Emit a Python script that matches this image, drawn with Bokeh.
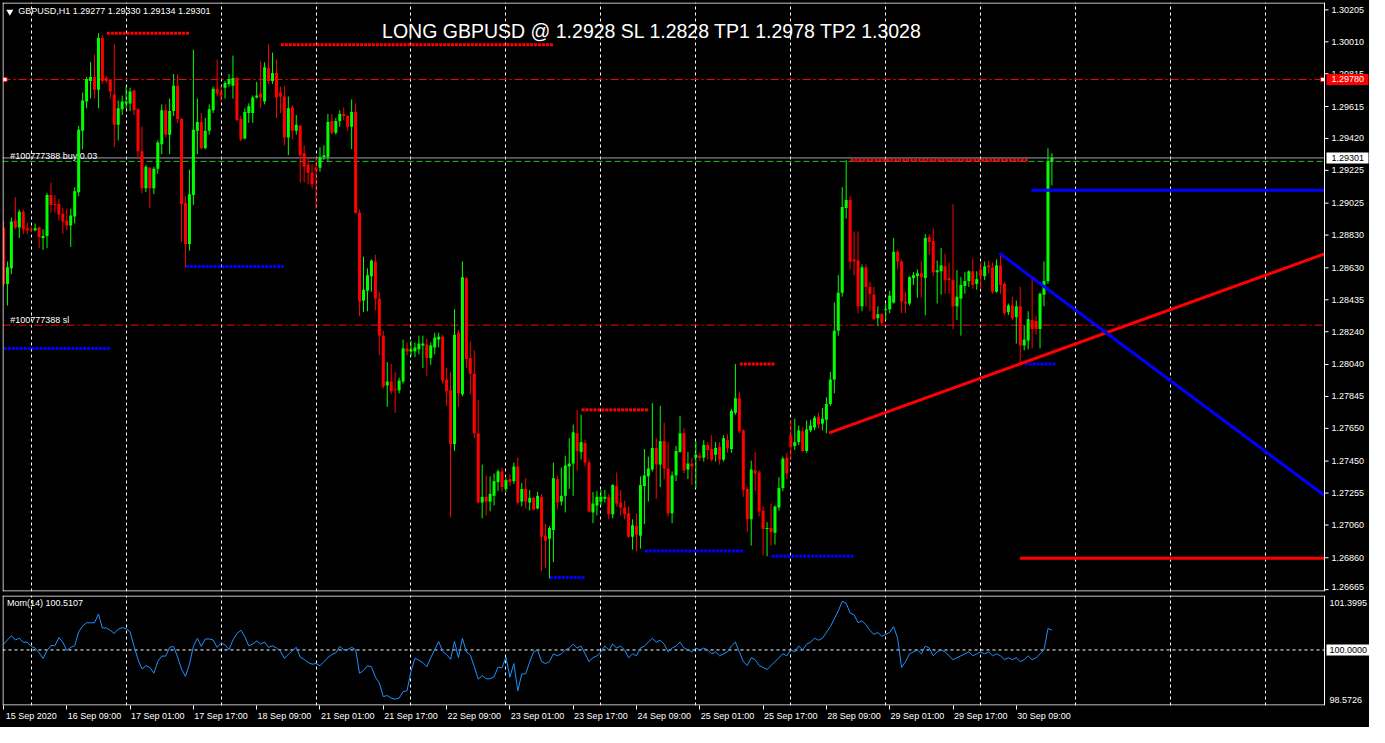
from bokeh.plotting import figure
from bokeh.models import (Range1d, FixedTicker, LinearAxis, Label, ColumnDataSource,
                          Grid, CustomJSTickFormatter)
from bokeh.layouts import column
from bokeh.embed import file_html
from bokeh.resources import INLINE
from bokeh.core.properties import value

# ---------------- data (GBPUSD H1, one value per bar) ----------------
opens = [1.28877,1.28532,1.28627,1.28919,1.28877,1.28973,1.28871,1.28865,1.28859,1.28877,
1.28812,1.28824,1.29074,1.29020,1.29020,1.28961,1.28919,1.28889,1.28943,1.29092,
1.29467,1.29646,1.29771,1.29795,1.29718,1.30034,1.29789,1.29777,1.29688,1.29503,
1.29598,1.29634,1.29634,1.29712,1.29598,1.29342,1.29116,1.29241,1.29116,1.29235,
1.29384,1.29592,1.29443,1.29587,1.29741,1.29539,1.29026,1.28776,1.29074,1.29467,
1.29521,1.29360,1.29467,1.29592,1.29724,1.29700,1.29730,1.29753,1.29741,1.29789,
1.29539,1.29420,1.29575,1.29575,1.29670,1.29694,1.29646,1.29849,1.29771,1.29819,
1.29700,1.29676,1.29426,1.29610,1.29467,1.29497,1.29330,1.29259,1.29211,1.29241,
1.29241,1.29306,1.29306,1.29527,1.29455,1.29527,1.29569,1.29557,1.29491,1.29581,
1.28967,1.28430,1.28490,1.28579,1.28669,1.28442,1.28216,1.27912,1.27936,1.27888,
1.27882,1.27936,1.28138,1.28120,1.28120,1.28132,1.28156,1.28162,1.28079,1.28144,
1.28192,1.28210,1.27948,1.27882,1.27554,1.28234,1.27858,1.28567,1.28079,1.27983,
1.27620,1.27197,1.27232,1.27203,1.27238,1.27322,1.27387,1.27280,1.27340,1.27328,
1.27417,1.27203,1.27280,1.27197,1.27226,1.27161,1.27232,1.26994,1.26976,1.27030,
1.27340,1.27203,1.27238,1.27417,1.27435,1.27620,1.27506,1.27560,1.27441,1.27137,
1.27179,1.27203,1.27220,1.27232,1.27125,1.27298,1.27197,1.27167,1.27131,1.26988,
1.27054,1.26994,1.27298,1.27357,1.27399,1.27530,1.27429,1.27572,1.27405,1.27131,
1.27363,1.27506,1.27620,1.27399,1.27435,1.27471,1.27483,1.27471,1.27548,1.27524,
1.27489,1.27536,1.27459,1.27578,1.27524,1.27745,1.27834,1.27638,1.27280,1.27095,
1.27393,1.27381,1.27149,1.27036,1.27042,1.27012,1.27167,1.27286,1.27471,1.27608,
1.27542,1.27566,1.27632,1.27512,1.27638,1.27655,1.27721,1.27679,1.27703,1.27799,
1.27948,1.28246,1.28478,1.28996,1.29044,1.28681,1.28675,1.28395,1.28633,1.28514,
1.28466,1.28323,1.28347,1.28371,1.28377,1.28418,1.28728,1.28669,1.28424,1.28412,
1.28567,1.28579,1.28597,1.28567,1.28818,1.28794,1.28603,1.28609,1.28639,1.28567,
1.28555,1.28395,1.28442,1.28520,1.28549,1.28609,1.28532,1.28621,1.28579,1.28645,
1.28633,1.28484,1.28645,1.28532,1.28359,1.28400,1.28329,1.28395,1.28156,1.28186,
1.28311,1.28305,1.28257,1.28466,1.28549,1.29277]

highs = [1.28913,1.28669,1.28937,1.29062,1.28985,1.28985,1.28907,1.28883,1.28901,1.28883,
1.28865,1.29086,1.29151,1.29074,1.29050,1.28996,1.28991,1.28991,1.29122,1.29497,
1.29700,1.29795,1.29885,1.29932,1.30063,1.30051,1.29801,1.29783,1.29998,1.29652,
1.29682,1.29736,1.29730,1.29718,1.29604,1.29491,1.29259,1.29247,1.29247,1.29408,
1.29628,1.29628,1.29664,1.29813,1.29813,1.29545,1.29068,1.29229,1.29962,1.29664,
1.29575,1.29545,1.29628,1.29736,1.29902,1.29741,1.29771,1.29813,1.29926,1.29795,
1.29557,1.29604,1.29634,1.29682,1.29765,1.29890,1.29885,1.29998,1.29944,1.29902,
1.29736,1.29741,1.29676,1.29622,1.29563,1.29503,1.29378,1.29306,1.29265,1.29306,
1.29366,1.29378,1.29569,1.29569,1.29545,1.29592,1.29610,1.29563,1.29658,1.29634,
1.28985,1.28698,1.28627,1.28681,1.28710,1.28484,1.28246,1.28055,1.28043,1.27995,
1.27959,1.28192,1.28174,1.28186,1.28174,1.28216,1.28216,1.28198,1.28174,1.28234,
1.28234,1.28222,1.28019,1.27995,1.28377,1.28251,1.28669,1.28573,1.28180,1.28126,
1.27822,1.27429,1.27363,1.27357,1.27375,1.27399,1.27411,1.27346,1.27369,1.27441,
1.27471,1.27316,1.27346,1.27274,1.27232,1.27262,1.27250,1.27065,1.27054,1.27441,
1.27363,1.27411,1.27483,1.27590,1.27673,1.27763,1.27733,1.27578,1.27459,1.27262,
1.27268,1.27274,1.27274,1.27250,1.27310,1.27381,1.27274,1.27208,1.27173,1.27095,
1.27131,1.27357,1.27524,1.27477,1.27804,1.27590,1.27787,1.27685,1.27566,1.27387,
1.27542,1.27727,1.27650,1.27506,1.27471,1.27572,1.27501,1.27578,1.27566,1.27608,
1.27566,1.27566,1.27608,1.27614,1.27769,1.28043,1.27870,1.27644,1.27292,1.27453,
1.27506,1.27393,1.27173,1.27077,1.27191,1.27179,1.27352,1.27477,1.27501,1.27697,
1.27709,1.27667,1.27655,1.27697,1.27703,1.27727,1.27745,1.27775,1.27840,1.27995,
1.28418,1.28585,1.29122,1.29289,1.29068,1.28853,1.28853,1.28651,1.28651,1.28544,
1.28514,1.28395,1.28353,1.28412,1.28490,1.28812,1.28740,1.28681,1.28484,1.28579,
1.28603,1.28621,1.28669,1.28836,1.28836,1.28871,1.28675,1.28752,1.28716,1.28663,
1.29020,1.28615,1.28573,1.28603,1.28615,1.28687,1.28609,1.28669,1.28669,1.28675,
1.28663,1.28681,1.28722,1.28544,1.28412,1.28454,1.28430,1.28514,1.28281,1.28365,
1.28573,1.28335,1.28478,1.28669,1.29360,1.29330]

lows = [1.28520,1.28400,1.28591,1.28865,1.28812,1.28836,1.28836,1.28847,1.28853,1.28752,
1.28740,1.28752,1.28967,1.28967,1.28919,1.28836,1.28859,1.28758,1.28901,1.29068,
1.29354,1.29604,1.29664,1.29664,1.29604,1.29753,1.29759,1.29664,1.29366,1.29408,
1.29563,1.29604,1.29587,1.29563,1.29294,1.29086,1.29092,1.28996,1.29080,1.29205,
1.29324,1.29426,1.29324,1.29557,1.29515,1.28788,1.28633,1.28734,1.29014,1.29324,
1.29354,1.29354,1.29443,1.29575,1.29676,1.29646,1.29664,1.29736,1.29664,1.29527,
1.29402,1.29414,1.29515,1.29515,1.29664,1.29604,1.29628,1.29753,1.29753,1.29545,
1.29575,1.29378,1.29318,1.29414,1.29443,1.29151,1.29151,1.29140,1.29116,1.28991,
1.29217,1.29289,1.29277,1.29443,1.29443,1.29491,1.29533,1.29467,1.29354,1.28961,
1.28335,1.28359,1.28365,1.28484,1.28371,1.28097,1.27894,1.27781,1.27858,1.27745,
1.27864,1.27924,1.28097,1.28091,1.28085,1.28102,1.28019,1.27971,1.28037,1.28102,
1.28144,1.27924,1.27787,1.27107,1.27512,1.27781,1.27846,1.28019,1.27858,1.27590,
1.27191,1.27101,1.27119,1.27143,1.27179,1.27268,1.27262,1.27262,1.27298,1.27310,
1.27185,1.27173,1.27161,1.27149,1.27149,1.27155,1.26779,1.26797,1.26732,1.26833,
1.27155,1.27179,1.27137,1.27280,1.27238,1.27393,1.27459,1.27417,1.27137,1.27071,
1.27119,1.27179,1.27197,1.27095,1.27101,1.27173,1.27119,1.27095,1.26982,1.26910,
1.26899,1.26916,1.27065,1.27203,1.27387,1.27220,1.27292,1.27340,1.27113,1.27071,
1.27328,1.27501,1.27375,1.27340,1.27304,1.27286,1.27453,1.27447,1.27459,1.27447,
1.27447,1.27429,1.27447,1.27501,1.27501,1.27733,1.27620,1.27232,1.27018,1.26934,
1.27268,1.27113,1.26875,1.26869,1.26934,1.26940,1.27149,1.27268,1.27340,1.27459,
1.27518,1.27548,1.27506,1.27501,1.27626,1.27638,1.27650,1.27638,1.27620,1.27787,
1.27864,1.28216,1.28454,1.28931,1.28621,1.28585,1.28353,1.28365,1.28395,1.28365,
1.28311,1.28275,1.28275,1.28311,1.28353,1.28412,1.28621,1.28353,1.28353,1.28400,
1.28526,1.28448,1.28448,1.28341,1.28710,1.28579,1.28412,1.28466,1.28472,1.28472,
1.28257,1.28311,1.28216,1.28472,1.28514,1.28502,1.28496,1.28502,1.28555,1.28597,
1.28472,1.28478,1.28472,1.28341,1.28341,1.28311,1.28168,1.28043,1.28126,1.28132,
1.28138,1.28222,1.28138,1.28395,1.28532,1.29134]

closes = [1.28532,1.28633,1.28913,1.28877,1.28973,1.28865,1.28859,1.28859,1.28871,1.28818,
1.28824,1.29074,1.29014,1.29014,1.28955,1.28913,1.28889,1.28949,1.29098,1.29473,
1.29652,1.29783,1.29795,1.29718,1.30034,1.29771,1.29771,1.29706,1.29503,1.29604,
1.29646,1.29646,1.29706,1.29592,1.29342,1.29116,1.29247,1.29116,1.29235,1.29396,
1.29592,1.29443,1.29587,1.29741,1.29539,1.29020,1.28776,1.29080,1.29473,1.29521,
1.29360,1.29467,1.29598,1.29724,1.29694,1.29682,1.29759,1.29783,1.29789,1.29533,
1.29414,1.29581,1.29616,1.29670,1.29682,1.29670,1.29855,1.29771,1.29819,1.29670,
1.29676,1.29426,1.29604,1.29467,1.29503,1.29318,1.29247,1.29211,1.29140,1.29223,
1.29306,1.29318,1.29521,1.29455,1.29527,1.29569,1.29557,1.29491,1.29581,1.28967,
1.28424,1.28496,1.28585,1.28675,1.28442,1.28216,1.27906,1.27936,1.27876,1.27882,
1.27942,1.28138,1.28120,1.28132,1.28144,1.28168,1.28168,1.28079,1.28156,1.28204,
1.28210,1.27942,1.27876,1.27554,1.28222,1.27864,1.28573,1.28073,1.27983,1.27620,
1.27197,1.27232,1.27203,1.27250,1.27328,1.27387,1.27292,1.27334,1.27322,1.27417,
1.27197,1.27280,1.27203,1.27226,1.27155,1.27238,1.26988,1.26964,1.27042,1.27346,
1.27197,1.27238,1.27423,1.27435,1.27626,1.27512,1.27566,1.27441,1.27143,1.27191,
1.27232,1.27232,1.27232,1.27125,1.27304,1.27191,1.27167,1.27125,1.26988,1.27059,
1.27000,1.27304,1.27363,1.27405,1.27530,1.27429,1.27572,1.27405,1.27131,1.27363,
1.27512,1.27620,1.27393,1.27435,1.27417,1.27489,1.27471,1.27548,1.27518,1.27459,
1.27530,1.27459,1.27590,1.27530,1.27757,1.27834,1.27632,1.27274,1.27095,1.27399,
1.27375,1.27143,1.27036,1.27042,1.27018,1.27173,1.27286,1.27465,1.27375,1.27536,
1.27566,1.27638,1.27512,1.27644,1.27667,1.27715,1.27673,1.27709,1.27799,1.27948,
1.28246,1.28478,1.29002,1.29044,1.28669,1.28669,1.28395,1.28633,1.28514,1.28472,
1.28317,1.28347,1.28293,1.28377,1.28460,1.28728,1.28669,1.28424,1.28412,1.28573,
1.28585,1.28597,1.28573,1.28812,1.28788,1.28603,1.28615,1.28645,1.28555,1.28555,
1.28395,1.28454,1.28526,1.28549,1.28609,1.28526,1.28561,1.28579,1.28639,1.28633,
1.28484,1.28645,1.28526,1.28353,1.28400,1.28323,1.28395,1.28156,1.28192,1.28317,
1.28257,1.28257,1.28472,1.28549,1.29277,1.29301]

momentum = [100.150,100.258,100.366,100.258,100.299,100.200,100.200,100.091,100.050,99.925,
99.784,99.983,100.116,100.108,100.316,100.200,99.983,100.067,100.108,100.466,
100.615,100.698,100.698,100.698,100.923,100.565,100.565,100.507,100.424,100.532,
100.574,100.549,100.466,100.091,99.759,99.510,99.593,99.551,99.401,99.701,
99.842,99.842,100.067,100.091,99.817,99.510,99.318,99.634,100.091,100.299,
100.091,100.283,100.283,100.258,100.067,100.175,100.133,100.008,100.258,100.424,
100.507,100.341,100.108,100.150,100.233,100.150,100.200,100.067,100.108,100.050,
99.967,99.784,99.884,99.983,100.067,99.817,99.759,99.676,99.634,99.651,
99.593,99.701,99.800,99.884,99.925,100.091,100.008,100.008,100.067,100.008,
99.401,99.468,99.593,99.568,99.302,99.152,98.803,98.828,98.761,98.736,
98.761,98.928,98.953,99.451,99.784,99.734,99.676,99.568,99.800,100.008,
100.216,99.967,99.884,99.759,100.216,99.800,100.300,99.950,99.870,99.570,
99.250,99.340,99.260,99.260,99.310,99.560,99.540,99.820,99.300,99.650,
98.950,99.380,99.390,99.690,99.950,100.000,99.700,99.650,99.700,99.900,
99.850,99.900,100.000,100.050,100.150,100.050,100.100,99.900,99.700,99.800,
99.850,99.950,100.100,100.000,100.150,100.050,100.100,100.000,99.800,99.900,
99.850,100.050,100.100,100.200,100.300,100.200,100.250,100.150,99.950,100.050,
100.100,100.200,100.050,100.000,99.950,100.050,100.000,100.050,100.000,99.900,
99.950,99.850,99.900,99.950,100.100,100.200,99.950,99.700,99.600,99.800,
99.750,99.600,99.550,99.500,99.600,99.700,99.800,99.900,99.850,100.000,
99.950,100.100,100.000,100.150,100.200,100.300,100.250,100.300,100.450,100.600,
100.800,101.000,101.250,101.200,100.950,100.900,100.700,100.750,100.650,100.500,
100.400,100.450,100.350,100.400,100.450,100.600,100.300,99.550,99.700,99.900,
99.950,100.000,99.900,100.100,100.050,99.850,99.950,100.000,99.950,99.850,
99.750,99.800,99.850,99.900,99.950,99.850,99.900,99.950,99.900,99.950,
99.850,99.900,99.850,99.750,99.800,99.750,99.800,99.700,99.750,99.850,
99.750,99.800,99.900,100.000,100.550,100.5107]

time_labels = ["15 Sep 2020", "16 Sep 09:00", "17 Sep 01:00", "17 Sep 17:00", "18 Sep 09:00",
               "21 Sep 01:00", "21 Sep 17:00", "22 Sep 09:00", "23 Sep 01:00", "23 Sep 17:00",
               "24 Sep 09:00", "25 Sep 01:00", "25 Sep 17:00", "28 Sep 09:00", "29 Sep 01:00",
               "29 Sep 17:00", "30 Sep 09:00"]
price_ticks = [1.30205, 1.30010, 1.29815, 1.29615, 1.29420, 1.29225, 1.29025, 1.28830, 1.28630,
               1.28435, 1.28240, 1.28040, 1.27845, 1.27650, 1.27450, 1.27255, 1.27060, 1.26860, 1.26665]
price_tick_labels = ["1.30205", "1.30010", "1.29815", "1.29615", "1.29420", "1.29225", "1.29025",
                     "1.28830", "1.28630", "1.28435", "1.28240", "1.28040", "1.27845", "1.27650",
                     "1.27450", "1.27255", "1.27060", "1.26860", "1.26665"]

# trade levels
entry_price = 1.2928
sl_price = 1.2828
tp_price = 1.2978

# support / resistance dotted levels: start bar, end bar, price
res_start = [26.5, 70.5, 214.5, 186.5, 146.5]
res_end = [46.5, 138.5, 258.5, 194.5, 162.5]
res_price = [1.30062, 1.29992, 1.29287, 1.28043, 1.27763]
sup_start = [46.5, 0.5, 138.5, 162.5, 194.5, 258.5]
sup_end = [70.5, 26.5, 146.5, 186.5, 214.5, 265.5]
sup_price = [1.28638, 1.28138, 1.26740, 1.26901, 1.26869, 1.28043]

# drawn trend lines (bar, price) -> (bar, price)
trend_x0 = [208.7, 251.7, 259.8, 256.9]
trend_y0 = [1.27622, 1.28720, 1.29104, 1.26857]
trend_x1 = [333.9, 333.9, 333.9, 333.9]
trend_y1 = [1.28715, 1.27240, 1.29104, 1.26857]
trend_color = ["#FF0000", "#0000FF", "#0000FF", "#FF0000"]

# ---------------- layout constants ----------------
FONT = "Liberation Sans"
W = 1369
LEFT = 2
CHART_PX = 1322              # width of the candle area in px
FRAME_PX = W - LEFT          # frame includes the price-scale strip
MAIN_H, MOM_H = 593, 134
MAIN_FRAME_PX = MAIN_H - 4
MOM_FRAME_PX = MOM_H - 2 - 22
X0, X1 = -0.25, 333.9
BPX = (X1 - X0) / CHART_PX   # bars per px
XR = X0 + FRAME_PX * BPX
YB, YT = 1.26654, 1.30250
PPY = (YT - YB) / MAIN_FRAME_PX
MOM_LO, MOM_HI = 98.5726, 101.3995
MPY = (MOM_HI - MOM_LO) / MOM_FRAME_PX
GRID_BARS = [7 + 24 * k for k in range(14)]
LABEL_BARS = [16 * k for k in range(len(time_labels))]

n = len(closes)
idx = list(range(n))
colors = ["#00FF00" if c >= o else "#FF0000" for o, c in zip(opens, closes)]
src = ColumnDataSource(dict(x=idx, o=opens, h=highs, l=lows, c=closes, color=colors,
                            top=[max(o, c) for o, c in zip(opens, closes)],
                            bot=[min(o, c) for o, c in zip(opens, closes)]))

x_range = Range1d(X0, XR)


def vgrid():
    return Grid(dimension=0, ticker=FixedTicker(ticks=GRID_BARS), grid_line_color="white",
                grid_line_dash="3 3", grid_line_width=1)


def border(fig, yb, yt, hy):
    hx = 0.5 * BPX
    fig.segment(x0=[X0 + hx, X0, X0, X1], y0=[yb, yt - hy, yb + hy, yb],
                x1=[X0 + hx, X1, X1, X1], y1=[yt, yt - hy, yb + hy, yt],
                line_color="white", line_width=1)


def hline(fig, y, color, dash, width=1):
    fig.segment(x0=[X0], y0=[y], x1=[X1], y1=[y], line_color=color, line_dash=dash,
                line_width=width)


def base_fig(height, yr, bottom):
    f = figure(width=W, height=height, x_range=x_range, y_range=yr, output_backend="svg",
               toolbar_location=None, x_axis_location=None, y_axis_location=None,
               min_border_left=LEFT, min_border_right=0, min_border_top=2,
               min_border_bottom=bottom, background_fill_color="black",
               border_fill_color="black", outline_line_color=None)
    for g in f.grid:
        g.visible = False
    f.add_layout(vgrid())
    return f


# ---------------- main price panel ----------------
p = base_fig(MAIN_H, Range1d(YB, YT), 2)

# order lines
hline(p, tp_price, "#FF0000", "8 3 2 3")
hline(p, sl_price, "#FF0000", "8 3 2 3")
hline(p, entry_price, "#2DB82D", "6 3")
hline(p, closes[-1], "#9AA4AE", "solid")

# candles
p.segment(x0="x", y0="l", x1="x", y1="h", source=src, line_color="color", line_width=1)
p.vbar(x="x", width=0.76, top="top", bottom="bot", source=src, fill_color="color",
       line_color=None)

# dotted support / resistance levels
for s, e, pr in zip(res_start, res_end, res_price):
    xs = [s + k for k in range(int(e - s) + 1)]
    p.scatter(xs, [pr] * len(xs), marker="square", size=3, fill_color="#FF0000",
              line_color=None)
for s, e, pr in zip(sup_start, sup_end, sup_price):
    xs = [s + k for k in range(int(e - s) + 1)]
    p.scatter(xs, [pr] * len(xs), marker="square", size=3, fill_color="#0000FF",
              line_color=None)

# trend lines
p.segment(x0=trend_x0, y0=trend_y0, x1=trend_x1, y1=trend_y1, line_color=trend_color,
          line_width=3)

# tp line anchors
p.scatter([0.4, X1 - 0.5], [tp_price, tp_price], marker="square", size=4,
          fill_color="white", line_color="#FF0000", line_width=1)

border(p, YB, YT, 0.5 * PPY)

# price scale (right strip)
p.segment(x0=[X1] * len(price_ticks), y0=price_ticks, x1=[X1 + 4 * BPX] * len(price_ticks),
          y1=price_ticks, line_color="white", line_width=1)
lab_y = price_ticks[:-1] + [price_ticks[-1] + 3 * PPY]
p.text(x=[X1 + 7 * BPX] * len(price_ticks), y=lab_y, text=price_tick_labels,
       text_color="white", text_font=value(FONT), text_font_size="9px",
       text_baseline="middle", text_align="left")
box_prices = [tp_price, closes[-1]]
p.quad(left=[X1 + 2 * BPX] * 2, right=[X1 + 44 * BPX] * 2,
       top=[v + 5.5 * PPY for v in box_prices], bottom=[v - 5.5 * PPY for v in box_prices],
       fill_color=["#FF0000", "white"], line_color=None)
p.text(x=[X1 + 7 * BPX] * 2, y=box_prices, text=["%.5f" % v for v in box_prices],
       text_color=["white", "black"], text_font=value(FONT), text_font_size="9px",
       text_baseline="middle", text_align="left")

# texts
p.scatter([1.6], [1.30194], marker="inverted_triangle", size=7, fill_color="white",
          line_color=None)
p.add_layout(Label(x=3.75, y=1.30196, text="GBPUSD,H1  %.5f %.5f %.5f %.5f" % (
    opens[-1], highs[-1], lows[-1], closes[-1]), text_color="white", text_font=FONT,
    text_font_size="9px", text_baseline="middle", text_align="left"))
p.add_layout(Label(x=95.7, y=1.30075, text="LONG GBPUSD @ 1.2928 SL 1.2828 TP1 1.2978 TP2 1.3028",
                   text_color="white", text_font=FONT, text_font_size="19.5px",
                   text_baseline="alphabetic", text_align="left"))
p.add_layout(Label(x=1.7, y=entry_price, text="#100777388 buy 0.03", text_color="white",
                   text_font=FONT, text_font_size="9px", text_baseline="bottom"))
p.add_layout(Label(x=1.7, y=sl_price, text="#100777388 sl", text_color="white",
                   text_font=FONT, text_font_size="9px", text_baseline="bottom"))

# ---------------- momentum panel ----------------
q = base_fig(MOM_H, Range1d(MOM_LO, MOM_HI), 22)
hline(q, 100.0, "white", "3 3")
q.line(idx, momentum, line_color="#1E90FF", line_width=1)
border(q, MOM_LO, MOM_HI, 0.5 * MPY)

label_axis = LinearAxis(ticker=FixedTicker(ticks=[b + 7 for b in LABEL_BARS],
                                           minor_ticks=LABEL_BARS),
                        axis_line_color=None, major_tick_line_color=None, major_tick_out=4,
                        major_tick_in=0, minor_tick_line_color="white", minor_tick_out=4,
                        minor_tick_in=0, major_label_text_color="white",
                        major_label_text_font=FONT, major_label_text_font_size="9px",
                        major_label_standoff=1,
                        formatter=CustomJSTickFormatter(args=dict(labels=time_labels),
                            code="const i = Math.round((tick - 7) / 16); return labels[i] || '';"))
q.add_layout(label_axis, "below")

q.add_layout(Label(x=0.9, y=101.2, text="Mom(14) %.4f" % momentum[-1], text_color="white",
                   text_font=FONT, text_font_size="9px", text_baseline="middle"))
q.quad(left=[X1 + 2 * BPX], right=[XR], top=[100.0 + 5.5 * MPY], bottom=[100.0 - 5.5 * MPY],
       fill_color="white", line_color=None)
q.text(x=[X1 + 5 * BPX] * 3, y=[MOM_HI - 7 * MPY, 100.0, MOM_LO + 6 * MPY],
       text=["%.4f" % MOM_HI, "100.0000", "%.4f" % MOM_LO],
       text_color=["white", "black", "white"], text_font=value(FONT), text_font_size="9px",
       text_baseline="middle", text_align="left")

layout = column(p, q, spacing=0, styles={"background-color": "black"})
open("out.html", "w").write(file_html(layout, INLINE, title="GBPUSD H1"))
